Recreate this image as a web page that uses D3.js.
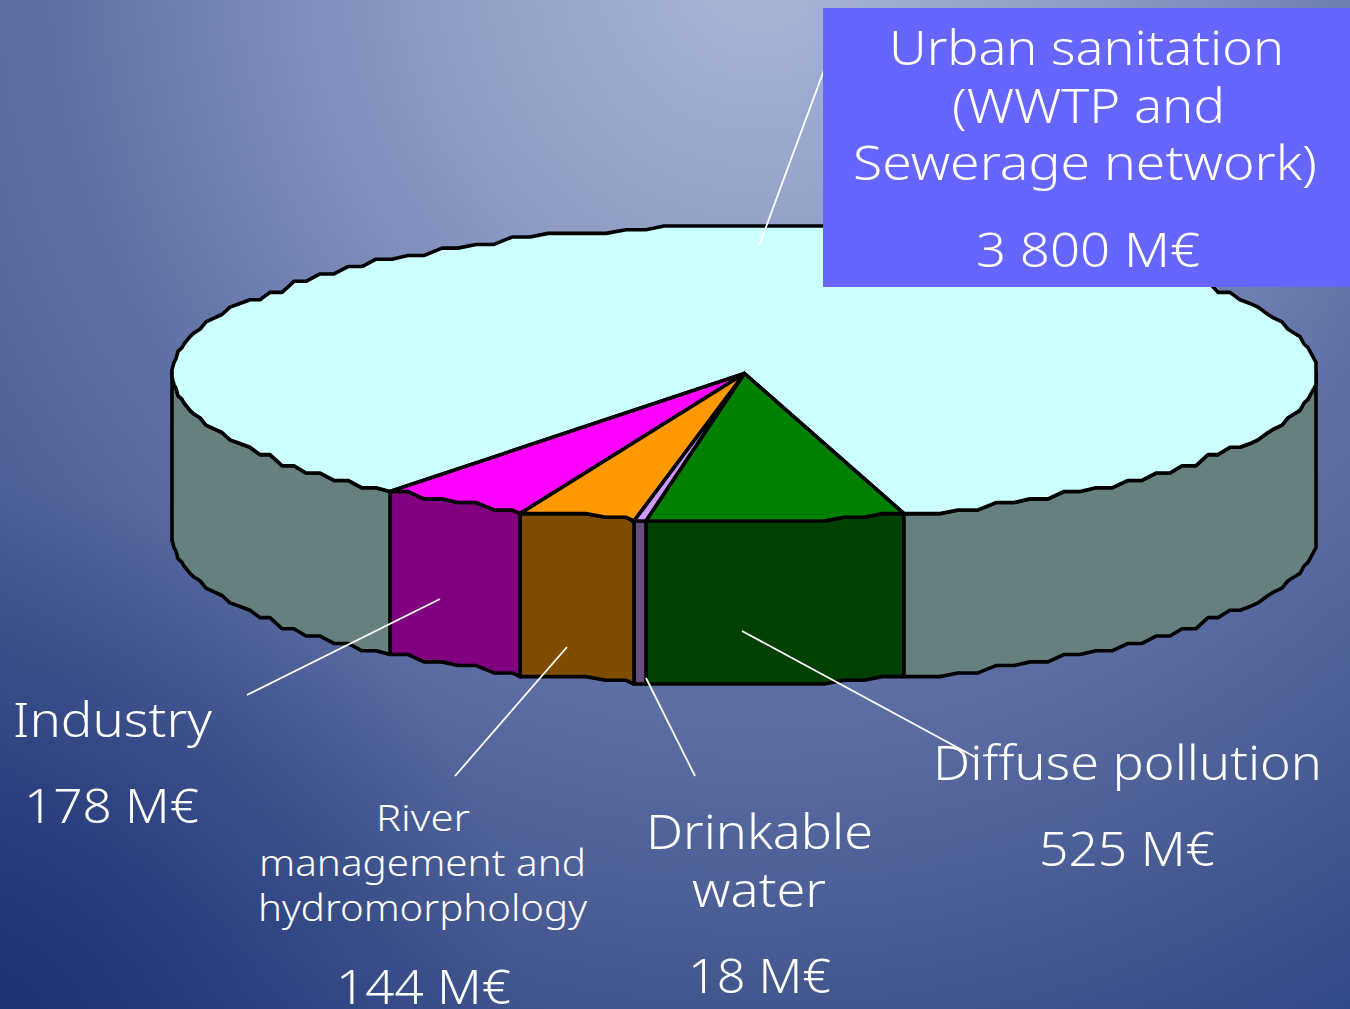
<!DOCTYPE html>
<html><head><meta charset="utf-8">
<script src="https://cdn.jsdelivr.net/npm/d3@7"></script>
<style>html,body{margin:0;padding:0;overflow:hidden;background:#3a4f8e}svg{display:block}</style>
</head><body><div id="c"></div>
<script>
// Data
const categories = ["Diffuse pollution","Drinkable water","River management and hydromorphology","Industry","Urban sanitation (WWTP and Sewerage network)"];
const statedValues = [525,18,144,178,3800];            // M€, as labelled
const drawnShares = [26,1.2,12.1,15.2,305.5];          // degrees of the disc as drawn
const topColors = ["#008000","#cc99ff","#ff9900","#ff00ff","#ccffff"];
const sideColors = ["#004000","#664d80","#804d00","#800080","#668080"];

const W=1350,H=1009;
const svg=d3.select("#c").append("svg").attr("width",W).attr("height",H);
const defs=svg.append("defs");
const g=defs.append("radialGradient").attr("id","bg").attr("gradientUnits","userSpaceOnUse")
  .attr("cx",760).attr("cy",-30).attr("r",1290);
[[0,"#a9b5d8"],[0.25,"#8f9dc6"],[0.55,"#5f70a5"],[0.8,"#43578f"],[0.92,"#33488a"],[1,"#2a3f80"]]
  .forEach(([o,c])=>g.append("stop").attr("offset",o).attr("stop-color",c));
const g2=defs.append("radialGradient").attr("id","corner").attr("gradientUnits","userSpaceOnUse")
  .attr("cx",0).attr("cy",1009).attr("r",520);
[[0,0.85],[0.5,0.4],[1,0]].forEach(([o,a])=>g2.append("stop").attr("offset",o).attr("stop-color","#1b2f73").attr("stop-opacity",a));
svg.append("rect").attr("width",W).attr("height",H).attr("fill","url(#bg)");
svg.append("rect").attr("width",W).attr("height",H).attr("fill","url(#corner)");

// Projection of the tilted disc
const sx=d3.scaleLinear().domain([-1,1]).range([172.5,1316.5]);
const sy=d3.scaleLinear().domain([-1,1]).range([226,521]);
const depth=163, gridY=295/80, gridX=2, step=2;
const rad=d=>d*Math.PI/180;
const rimY=deg=>226+Math.round((sy(-Math.cos(rad(deg)))-226)/gridY)*gridY;
const rim=(deg,dz=0)=>{
  // low-resolution outline: away from the sides, every second step holds the previous height
  const k=Math.floor(deg/step+1e-6), m=k%2===0?k:k-1;
  const onEven=Math.abs(deg/step-k)<1e-6&&k%2===0;
  const nearSide=Math.abs(Math.sin(rad(deg)))>0.86;
  const x=sx(Math.sin(rad(deg)));
  return [Math.round(x/gridX)*gridX, ((onEven||nearSide)?rimY(deg):rimY(m*step))+dz];
};
const arcDegs=(a0,a1)=>{
  const out=[a0];
  for(let d=Math.ceil(a0/step+1e-6)*step;d<a1-1e-6;d+=step) out.push(d);
  out.push(a1);return out;
};
const startDeg=163.9;
const pie=d3.pie().sort(null).value(d=>d).startAngle(rad(startDeg)).endAngle(rad(startDeg+360));
const arcs=pie(drawnShares).map((d,i)=>({i,a0:d.startAngle*180/Math.PI,a1:d.endAngle*180/Math.PI}));
const line=d3.line();

// side walls
const chart=svg.append("g").attr("stroke","#000").attr("stroke-width",3.6).attr("stroke-linejoin","round");
const windows=[[90,270],[450,630]];
arcs.forEach(s=>windows.forEach(([w0,w1])=>{
  const a0=Math.max(s.a0,w0),a1=Math.min(s.a1,w1);
  if(a1<=a0) return;
  const ds=arcDegs(a0,a1);
  const pts=ds.map(d=>rim(d)).concat(ds.slice().reverse().map(d=>rim(d,depth)));
  chart.append("path").attr("d",line(pts)+"Z").attr("fill",sideColors[s.i]);
}));
// top faces (urban first so the small wedges sit on top)
const centre=[sx(0),sy(0)];
arcs.slice().reverse().forEach(s=>{
  const pts=[centre].concat(arcDegs(s.a0,s.a1).map(d=>rim(d)));
  const big=s.a1-s.a0>180;
  chart.append("path").attr("d",line(pts)+"Z").attr("fill",topColors[s.i])
    .attr("stroke-linejoin",big?"round":"miter").attr("stroke-miterlimit",3);
});

// leader lines
const leaders=[[[759,246],[824,70]],[[247,695],[440,599]],[[455,776],[567,647]],[[695,776],[646,678]],[[742,631],[975,757]]];
svg.append("g").selectAll("path").data(leaders).join("path").attr("d",d=>line(d)).attr("stroke","#fff").attr("stroke-width",1.8).attr("fill","none");

// label box
svg.append("rect").attr("x",823).attr("y",8).attr("width",527).attr("height",279).attr("fill","#6666ff");

// labels
const labelLines=[
 ["Urban sanitation",889,395,65,47],["(WWTP and",952,273,123,47],["Sewerage network)",853,464,180,47],["3 800 M€",976,224,267,47],
 ["Industry",13,199,737,47],["178 M€",24,175,823,47],
 ["River",376,94,831,36],["management and",259,327,876,36],["hydromorphology",258,329,921,36],["144 M€",336,175,1004,47],
 ["Drinkable",646,227,849,47],["water",692,134,907,47],["18 M€",688,143,993,47],
 ["Diffuse pollution",933,389,780,47],["525 M€",1039,176,866,47]];
svg.append("g").attr("fill","#fff").attr("font-family","'Noto Sans','DejaVu Sans',sans-serif").attr("font-weight",300)
 .selectAll("text").data(labelLines).join("text")
 .attr("x",d=>d[1]).attr("y",d=>d[3]).attr("font-size",d=>d[4])
 .attr("textLength",d=>d[2]).attr("lengthAdjust","spacingAndGlyphs").text(d=>d[0]);
</script></body></html>
